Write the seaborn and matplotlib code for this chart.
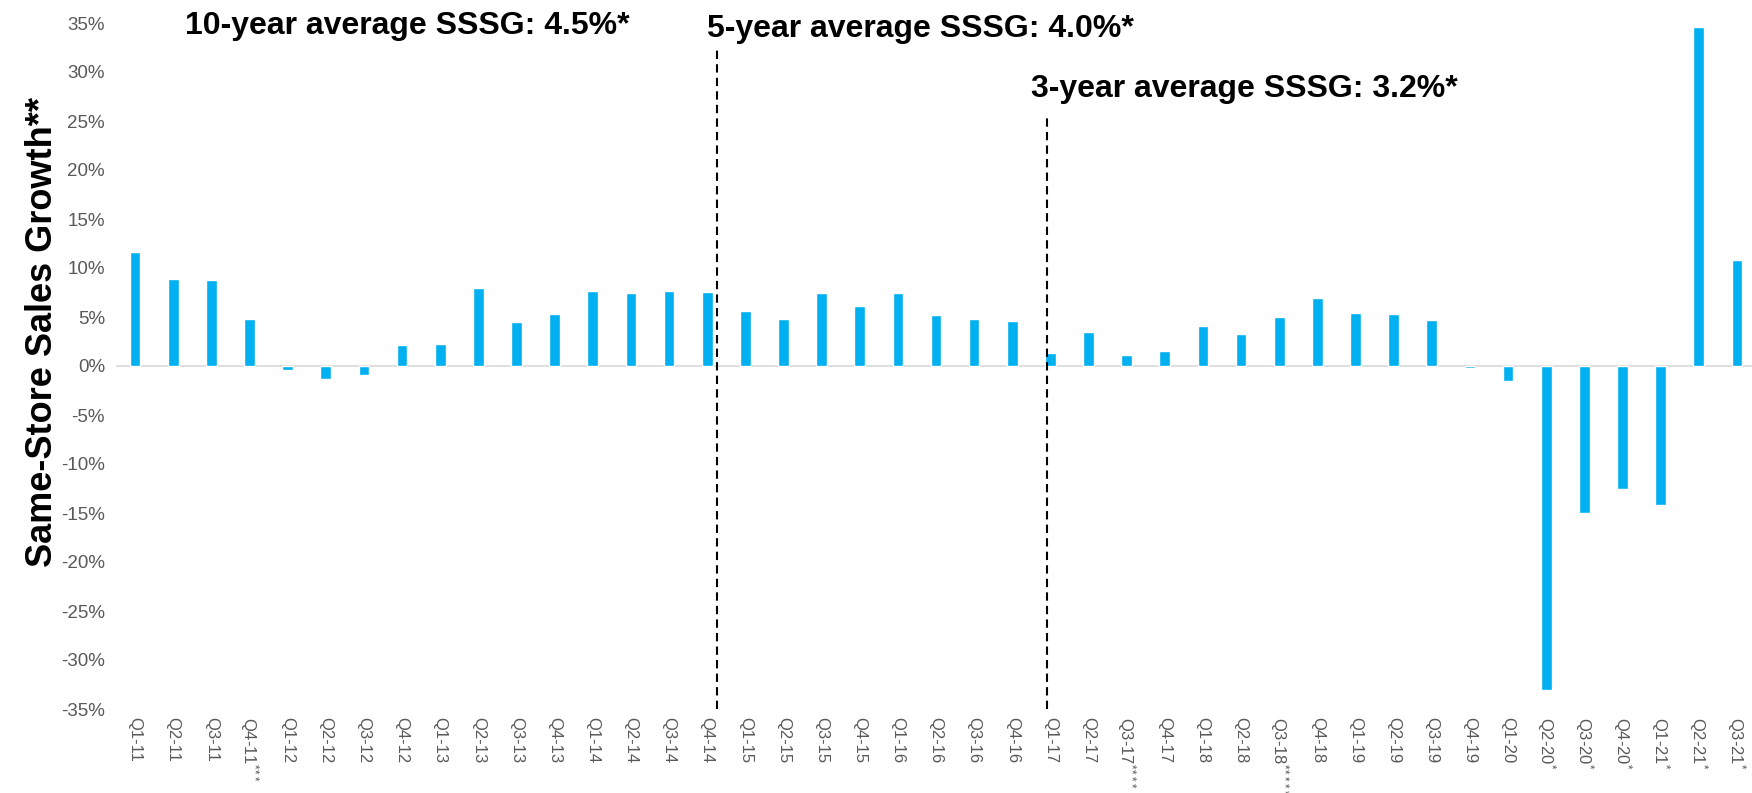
import numpy as np
import pandas as pd
import matplotlib
matplotlib.use("Agg")
import matplotlib.pyplot as plt
from matplotlib.ticker import FuncFormatter
import seaborn as sns

# quarterly same-store sales growth (%)
quarters = [
    "Q1-11", "Q2-11", "Q3-11", "Q4-11***",
    "Q1-12", "Q2-12", "Q3-12", "Q4-12",
    "Q1-13", "Q2-13", "Q3-13", "Q4-13",
    "Q1-14", "Q2-14", "Q3-14", "Q4-14",
    "Q1-15", "Q2-15", "Q3-15", "Q4-15",
    "Q1-16", "Q2-16", "Q3-16", "Q4-16",
    "Q1-17", "Q2-17", "Q3-17****", "Q4-17",
    "Q1-18", "Q2-18", "Q3-18*****", "Q4-18",
    "Q1-19", "Q2-19", "Q3-19", "Q4-19",
    "Q1-20", "Q2-20*", "Q3-20*", "Q4-20*",
    "Q1-21*", "Q2-21*", "Q3-21*",
]
sssg = [
    11.6, 8.9, 8.8, 4.8,
    -0.4, -1.3, -0.9, 2.1,
    2.2, 8.0, 4.5, 5.3,
    7.7, 7.4, 7.7, 7.6,
    5.6, 4.8, 7.4, 6.1,
    7.5, 5.2, 4.8, 4.6,
    1.3, 3.5, 1.1, 1.5,
    4.1, 3.3, 5.0, 6.9,
    5.4, 5.3, 4.7, -0.2,
    -1.5, -33.1, -15.0, -12.6,
    -14.2, 34.6, 10.8,
]
avg_labels = ["10-year average SSSG: 4.5%*",
              "5-year average SSSG: 4.0%*",
              "3-year average SSSG: 3.2%*"]

df = pd.DataFrame({"quarter": quarters, "sssg": sssg})

sns.set_theme(style="white")
plt.rcParams["font.family"] = ["Liberation Sans", "DejaVu Sans"]
plt.rcParams["mathtext.fontset"] = "custom"
plt.rcParams["mathtext.rm"] = "Liberation Sans"
plt.rcParams["mathtext.default"] = "rm"


def tick_text(q):
    # footnote stars are drawn small, like a superscript
    base = q.rstrip("*")
    stars = len(q) - len(base)
    if stars == 0:
        return base
    return base + r"$^{\mathrm{" + r"\!".join(["*"] * stars) + "}}$"


fig = plt.figure(figsize=(17.52, 7.93), dpi=100)
ax = fig.add_axes([116 / 1752, 84 / 793, 1640 / 1752, 686 / 793])

sns.barplot(data=df, x="quarter", y="sssg", color="#00B0F0",
            saturation=1, width=0.28, ax=ax)

ax.axhline(0, color="#D9D9D9", lw=1.2, zorder=0)

ax.set_ylim(-35, 35)
ax.set_xlim(-0.5, 42.5)
ax.set_yticks(np.arange(-35, 36, 5))
ax.yaxis.set_major_formatter(FuncFormatter(lambda v, p: f"{int(round(v))}%"))
ax.tick_params(axis="y", length=0, pad=8, labelsize=13.5, labelcolor="#595959")
ax.tick_params(axis="x", length=0, pad=6, labelsize=12, labelcolor="#595959")
ax.set_xticks(range(len(quarters)))
ax.set_xticklabels([tick_text(q) for q in quarters], rotation=-90,
                   ha="center", va="top")
for s in ax.spines.values():
    s.set_visible(False)

ax.set_xlabel("")
ax.set_ylabel("Same-Store Sales Growth**", fontsize=26, fontweight="bold",
              color="black")
ax.yaxis.set_label_coords(-0.034, 0.55)

# period separators
ax.vlines(15.25, -35, 32.5, colors="black", lw=1.5, linestyles=(0, (4, 2.5)))
ax.vlines(23.9, -35, 25.4, colors="black", lw=1.5, linestyles=(0, (4, 2.5)))

ax.text(1.32, 34.7, avg_labels[0], fontsize=23, fontweight="bold",
        color="black", va="center", ha="left", clip_on=False)
ax.text(15.0, 34.4, avg_labels[1], fontsize=23, fontweight="bold",
        color="black", va="center", ha="left", clip_on=False)
ax.text(23.48, 28.3, avg_labels[2], fontsize=23, fontweight="bold",
        color="black", va="center", ha="left", clip_on=False)

fig.savefig("out.png", dpi=100)
